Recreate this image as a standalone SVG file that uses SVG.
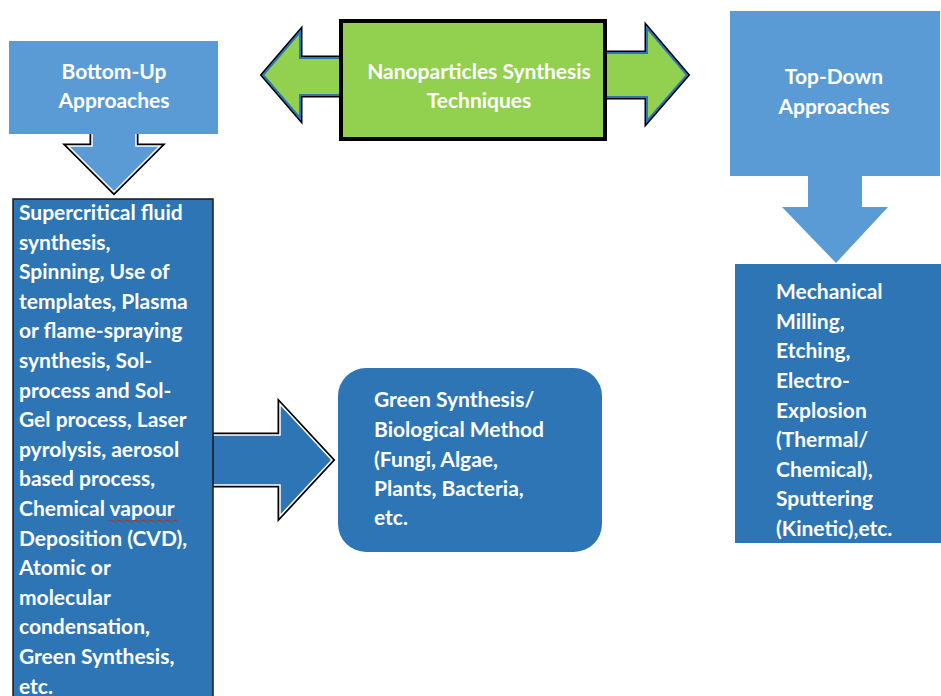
<svg xmlns="http://www.w3.org/2000/svg" width="941" height="696" viewBox="0 0 941 696">
<defs>
<style>
.t{font-family:Lato,"Open Sans","Liberation Sans",sans-serif;font-weight:bold;font-size:21px;fill:#ffffff}
.c{text-anchor:middle}
.light{fill:#5B9BD5}
.dark{fill:#2E75B6}
.olb{fill:none;stroke:#000;stroke-width:5;stroke-linejoin:miter}
.olw{stroke:#ffffff;stroke-width:1.5;stroke-linejoin:miter}
</style>
</defs>
<rect width="941" height="696" fill="#ffffff"/>

<g id="connectors">
  <path class="olb" d="M341,58 L300,58 L300,32 L263,75 L300,118 L300,95 L341,95 Z"/>
  <path d="M341,58 L300,58 L300,32 L263,75 L300,118 L300,95 L341,95 Z" fill="#92D050" stroke="#2E75B6" stroke-width="2"/>
  <path class="olb" d="M605,53 L647,53 L647,28 L687,75 L647,121 L647,97 L605,97 Z"/>
  <path d="M605,53 L647,53 L647,28 L687,75 L647,121 L647,97 L605,97 Z" fill="#92D050" stroke="#2E75B6" stroke-width="2"/>
  <path class="olb" d="M92,134 L92,146 L68,146 L114,192 L160,146 L136,146 L136,134"/>
  <path class="light olw" d="M92,134 L92,146 L68,146 L114,192 L160,146 L136,146 L136,134"/>
  <path class="olb" d="M213,435 L280,435 L280,404 L332,460 L280,516 L280,485 L213,485"/>
  <path class="dark olw" d="M213,435 L280,435 L280,404 L332,460 L280,516 L280,485 L213,485"/>
  <rect x="204" y="437" width="12" height="46" fill="#2E75B6"/>
  <path class="light" d="M808,175 L808,207 L782,207 L836,263 L888,207 L862,207 L862,175 Z"/>
</g>

<g id="node-center">
  <rect x="341" y="21" width="264" height="118" fill="#92D050" stroke="#000" stroke-width="4"/>
  <text class="t c" x="479" y="79">Nanoparticles Synthesis</text>
  <text class="t c" x="479" y="108">Techniques</text>
</g>

<g id="node-bottomup">
  <rect x="9" y="41" width="209" height="93" class="light"/>
  <text class="t c" x="114" y="79">Bottom-Up</text>
  <text class="t c" x="114" y="108">Approaches</text>
</g>

<g id="node-topdown">
  <rect x="730" y="11" width="210" height="165" class="light"/>
  <text class="t c" x="834" y="84">Top-Down</text>
  <text class="t c" x="834" y="114">Approaches</text>
</g>

<g id="node-bottomup-list">
  <rect x="13" y="199" width="200" height="510" class="dark" stroke="#1a1a1a" stroke-width="1.5"/>
  <text class="t" x="19" y="220">Supercritical fluid</text>
  <text class="t" x="19" y="249.6">synthesis,</text>
  <text class="t" x="19" y="279.2">Spinning, Use of</text>
  <text class="t" x="19" y="308.8">templates, Plasma</text>
  <text class="t" x="19" y="338.4">or flame-spraying</text>
  <text class="t" x="19" y="368">synthesis, Sol-</text>
  <text class="t" x="19" y="397.6">process and Sol-</text>
  <text class="t" x="19" y="427.2">Gel process, Laser</text>
  <text class="t" x="19" y="456.8">pyrolysis, aerosol</text>
  <text class="t" x="19" y="486.4">based process,</text>
  <text class="t" x="19" y="516">Chemical vapour</text>
  <path d="M109,521 q2,-2 4,0 t4,0 t4,0 t4,0 t4,0 t4,0 t4,0 t4,0 t4,0 t4,0 t4,0 t4,0 t4,0 t4,0 t4,0 t4,0 t4,0" fill="none" stroke="#e02020" stroke-width="1"/>
  <text class="t" x="19" y="545.6">Deposition (CVD),</text>
  <text class="t" x="19" y="575.2">Atomic or</text>
  <text class="t" x="19" y="604.8">molecular</text>
  <text class="t" x="19" y="634.4">condensation,</text>
  <text class="t" x="19" y="664">Green Synthesis,</text>
  <text class="t" x="19" y="693.6">etc.</text>
</g>

<g id="node-green">
  <rect x="338" y="368" width="264" height="184" rx="28" ry="28" class="dark"/>
  <text class="t" x="374" y="407">Green Synthesis/</text>
  <text class="t" x="374" y="437">Biological Method</text>
  <text class="t" x="374" y="467">(Fungi, Algae,</text>
  <text class="t" x="374" y="496">Plants, Bacteria,</text>
  <text class="t" x="374" y="525">etc.</text>
</g>

<g id="node-topdown-list">
  <rect x="735" y="264" width="206" height="279" class="dark"/>
  <text class="t" x="776" y="299">Mechanical</text>
  <text class="t" x="776" y="329">Milling,</text>
  <text class="t" x="776" y="358">Etching,</text>
  <text class="t" x="776" y="388">Electro-</text>
  <text class="t" x="776" y="418">Explosion</text>
  <text class="t" x="776" y="447">(Thermal/</text>
  <text class="t" x="776" y="477">Chemical),</text>
  <text class="t" x="776" y="506">Sputtering</text>
  <text class="t" x="776" y="536">(Kinetic),etc.</text>
</g>
</svg>
